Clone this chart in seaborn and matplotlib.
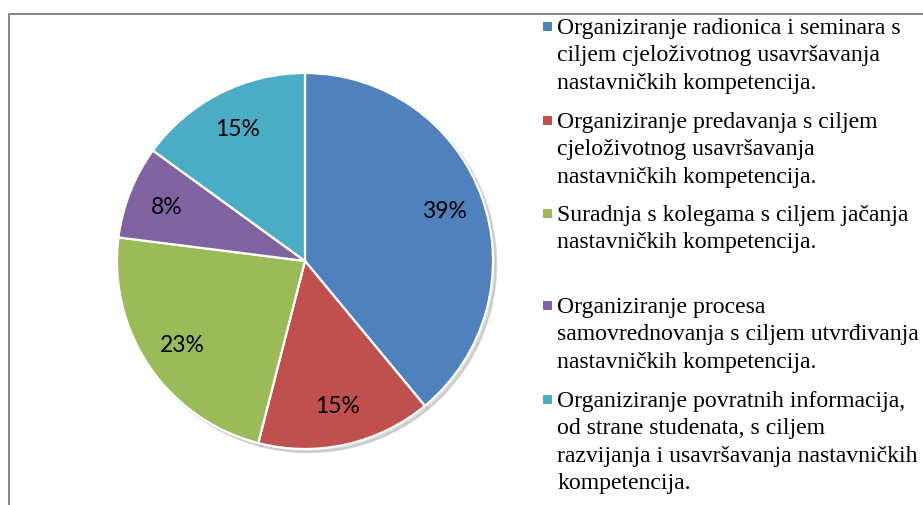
import matplotlib
matplotlib.use("Agg")
import matplotlib.pyplot as plt
import seaborn as sns
from matplotlib.patches import Rectangle
from matplotlib.lines import Line2D

categories = [
    "Organiziranje radionica i seminara s\nciljem cjeloživotnog usavršavanja\nnastavničkih kompetencija.",
    "Organiziranje predavanja s ciljem\ncjeloživotnog usavršavanja\nnastavničkih kompetencija.",
    "Suradnja s kolegama s ciljem jačanja\nnastavničkih kompetencija.",
    "Organiziranje procesa\nsamovrednovanja s ciljem utvrđivanja\nnastavničkih kompetencija.",
    "Organiziranje povratnih informacija,\nod strane studenata, s ciljem\nrazvijanja i usavršavanja nastavničkih\nkompetencija.",
]
values = [39, 15, 23, 8, 15]
colors_hex = ["#4F81BD", "#C0504D", "#9BBB59", "#8064A2", "#4BACC6"]

sns.set_theme(style="white")
palette = sns.color_palette(colors_hex)

W, H = 923, 506
fig = plt.figure(figsize=(W / 100, H / 100), dpi=100)
fig.patch.set_facecolor("white")

# pie axes: center (305, 262) px, radius 188 px
cx, cy, r = 305, 262, 188
ax = fig.add_axes([(cx - r) / W, (H - cy - r) / H, 2 * r / W, 2 * r / H])
wedges, texts, autotexts = ax.pie(
    values,
    colors=palette,
    startangle=90,
    counterclock=False,
    autopct=lambda p: f"{p:.0f}%",
    pctdistance=0.79,
    wedgeprops=dict(edgecolor="white", linewidth=1.6),
    shadow=dict(ox=0.012, oy=-0.012, shade=0.0, color="#b8b8b8", alpha=0.55, zorder=0),
    textprops=dict(fontsize=16.5, family="Lato", color="black"),
)
ax.set_xlim(-1, 1)
ax.set_ylim(-1, 1)
ax.set_aspect("equal")
ax.axis("off")

# frame lines (left and top)
bx, by = 8.5, 14.5
fig.add_artist(Line2D([bx / W, bx / W], [0, 1 - by / H], color="#878787", lw=1.4, transform=fig.transFigure))
fig.add_artist(Line2D([bx / W, 1], [1 - by / H, 1 - by / H], color="#878787", lw=1.4, transform=fig.transFigure))

# legend, drawn manually
baselines = [34, 128, 221, 313, 407]
pitch = 27.3
tx = 557
for lab, col, b in zip(categories, palette, baselines):
    for i, line in enumerate(lab.split("\n")):
        fig.text(tx / W, 1 - (b + i * pitch) / H, line, fontsize=17.1, family="Liberation Serif",
                 color="black", va="baseline", ha="left")
    fig.add_artist(Rectangle((542.5 / W, 1 - (b - 2) / H), 9 / W, 9 / H, facecolor=col,
                             edgecolor="none", transform=fig.transFigure))

fig.savefig("out.png", dpi=100, facecolor="white")
